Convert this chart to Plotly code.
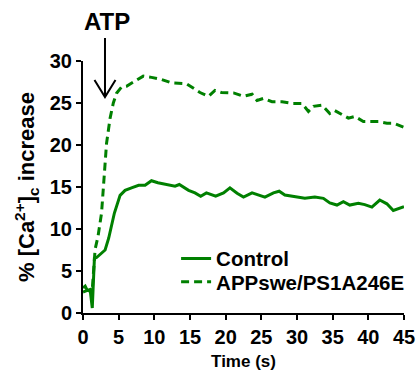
import plotly.graph_objects as go

# Data
control_t = [0, 0.3, 0.6, 1.0, 1.3, 1.6, 1.9, 2.5, 3.1, 3.6, 4.4, 5.2, 5.9, 6.8, 7.8,
             8.7, 9.6, 10.5, 11.3, 12.2, 12.9, 13.5, 14.8, 15.7, 16.5, 17.3, 18.6, 19.7,
             20.6, 21.6, 22.5, 23.7, 25.5, 26.7, 27.5, 28.3, 29.5, 30.0, 31.1, 32.5, 33.7,
             34.6, 35.6, 36.5, 37.4, 38.6, 39.5, 40.5, 41.6, 42.6, 43.5, 45.0]
control_v = [3.0, 3.2, 2.7, 2.8, 0.6, 6.5, 6.6, 7.0, 7.5, 8.9, 11.9, 14.0, 14.6, 14.9, 15.2,
             15.2, 15.75, 15.5, 15.35, 15.2, 15.1, 15.3, 14.6, 14.3, 13.9, 14.3, 13.9, 14.3,
             14.9, 14.25, 13.8, 14.3, 13.8, 14.3, 14.5, 14.05, 13.9, 13.85, 13.65, 13.8, 13.65,
             13.1, 12.85, 13.25, 12.85, 13.05, 12.9, 12.6, 13.45, 13.0, 12.2, 12.65]

app_t = [0, 0.3, 0.6, 1.0, 1.3, 1.7, 2.1, 2.6, 2.85, 3.05, 3.3, 3.8, 4.25, 4.7, 5.4,
         6.1, 6.8, 7.5, 8.45, 9.6, 11.0, 12.4, 13.3, 14.5, 15.5, 16.4, 17.6, 18.5, 19.4,
         21.1, 22.5, 23.7, 24.4, 25.3, 26.5, 27.9, 29.3, 30.7, 31.6, 32.3, 33.5, 34.6,
         35.3, 37.2, 38.1, 39.3, 41.4, 42.6, 43.5, 45.0]
app_v = [2.5, 2.6, 2.7, 2.6, 2.8, 7.6, 9.1, 11.9, 14.8, 17.0, 20.2, 23.2, 25.0, 26.15, 26.9,
         27.0, 27.35, 27.7, 28.2, 28.05, 27.8, 27.4, 27.35, 27.3, 26.75, 26.25, 25.8, 26.5, 26.25,
         26.2, 25.8, 26.05, 25.3, 25.55, 25.15, 25.15, 24.95, 24.95, 24.0, 24.6, 24.75, 23.75,
         24.1, 23.2, 23.4, 22.8, 22.8, 22.6, 22.6, 22.1]

series_names = ["Control", "APPswe/PS1A246E"]
x_ticks = [0, 5, 10, 15, 20, 25, 30, 35, 40, 45]
y_ticks = [0, 5, 10, 15, 20, 25, 30]

GREEN = "#008000"
FONT = "Liberation Sans, Arial, sans-serif"

fig = go.Figure()
fig.add_trace(go.Scatter(x=control_t, y=control_v, mode="lines", name=series_names[0],
                         line=dict(color=GREEN, width=3), legend="legend"))
fig.add_trace(go.Scatter(x=app_t, y=app_v, mode="lines", name=series_names[1],
                         line=dict(color=GREEN, width=3, dash="8px,5px"), legend="legend2"))

axis_common = dict(showline=True, linewidth=2, linecolor="black", ticks="outside",
                   ticklen=5, tickwidth=2, tickcolor="black", showgrid=False, zeroline=False,
                   tickfont=dict(family=FONT, size=20, color="black", weight="bold"))

fig.update_xaxes(range=[0, 45], tickvals=x_ticks, **axis_common,
                 title=dict(text="Time (s)", standoff=8,
                            font=dict(family=FONT, size=17, color="black", weight="bold")))
fig.update_yaxes(range=[0, 30], tickvals=y_ticks, **axis_common,
                 title=dict(text="% [Ca<sup>2+</sup>]<sub>c</sub> increase", standoff=9,
                            font=dict(family=FONT, size=22, color="black", weight="bold")))

# ATP label and arrow
fig.add_annotation(text="ATP", xref="paper", yref="paper", x=0.0748, y=1.155,
                   showarrow=False, xanchor="center", yanchor="middle",
                   font=dict(family=FONT, size=24, color="black", weight="bold"))
fig.add_shape(type="path", xref="paper", yref="paper",
              path="M 0.0685,1.091 L 0.0685,0.857 M 0.0358,0.9246 L 0.0685,0.857 L 0.1012,0.9246",
              line=dict(color="black", width=2))

legend_style = dict(xanchor="left", yanchor="top", bgcolor="rgba(0,0,0,0)",
                    font=dict(family=FONT, size=20.5, color="black", weight="bold"),
                    itemwidth=30)

fig.update_layout(
    width=418, height=372,
    margin=dict(l=83, r=14, t=61, b=59, autoexpand=False),
    plot_bgcolor="white", paper_bgcolor="white",
    showlegend=True,
    legend=dict(x=0.29, y=0.295, **legend_style),
    legend2=dict(x=0.29, y=0.203, **legend_style),
)

fig.write_html("out.html")
